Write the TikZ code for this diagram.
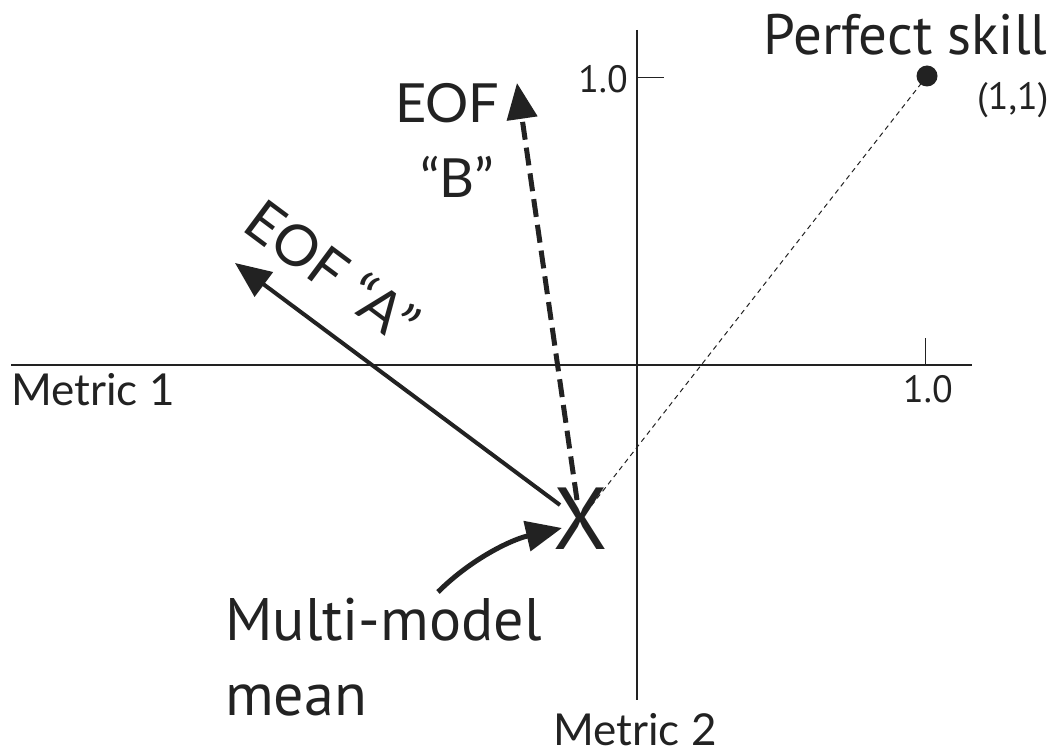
\documentclass[tikz,border=0pt]{standalone}
\usepackage{fontspec}
\setmainfont{PT Sans}
\newfontfamily\gill{Lato}
\usetikzlibrary{arrows.meta}
\definecolor{ink}{HTML}{222222}
\begin{document}
\begin{tikzpicture}[x=1pt,y=-1pt,
  lbl/.style={inner sep=0pt, text=ink},
  axis/.style={draw=ink, line width=1.5pt},
  bighead/.style={-{Triangle[length=36pt,width=30pt]}},
]
\useasboundingbox (0,0) rectangle (1061,754);
% axes
\coordinate (hl) at (11,365);
\coordinate (hr) at (972,365);
\coordinate (vt) at (637,30);
\coordinate (vb) at (637,700);
\draw[axis] (hl) -- (hr);
\draw[axis] (vt) -- (vb);
\coordinate (ty1) at (637,78); \coordinate (ty2) at (664,78);
\coordinate (tx1) at (925,338); \coordinate (tx2) at (925,365);
\draw[axis, line width=1pt] (ty1) -- (ty2);
\draw[axis, line width=1pt] (tx1) -- (tx2);
% labels
\node[lbl, anchor=base west, font=\gill\fontsize{44}{44}\selectfont] (m1) at (11,405) {Metric 1};
\node[lbl, anchor=base west, font=\gill\fontsize{44}{44}\selectfont] (m2) at (553,745) {Metric 2};
\node[lbl, anchor=base east, font=\fontsize{38}{38}\selectfont] (y10) at (628,93) {1.0};
\node[lbl, anchor=base west, font=\fontsize{38}{38}\selectfont] (x10) at (903,402) {1.0};
% perfect skill
\node[circle, fill=ink, inner sep=0pt, minimum size=21pt] (ps) at (927,76) {};
\node[lbl, anchor=base west, font=\fontsize{57}{57}\selectfont] (pst) at (763,55) {Perfect skill};
\node[lbl, anchor=base west, font=\fontsize{38}{38}\selectfont] (one) at (977,110) {(1,1)};
% multi-model mean
\node[lbl, font=\fontsize{88}{88}\selectfont] (mmm) at (581,519) {X};
\draw[ink, line width=1pt, dash pattern=on 5pt off 4pt] (ps.center) -- (588,510);
% EOF B
\coordinate (bs) at (577,500);
\coordinate (bt) at (517,83);
\draw[ink, line width=5pt, dash pattern=on 18pt off 8pt, bighead] (bs) -- (bt);
\node[lbl, anchor=base west, font=\gill\fontsize{54}{54}\selectfont] (eofb) at (395,123) {EOF};
\node[lbl, anchor=base west, font=\gill\fontsize{54}{54}\selectfont] (bq) at (420,198) {“B”};
% EOF A
\coordinate (as) at (560,505);
\coordinate (at) at (235,263);
\draw[ink, line width=4pt, bighead] (as) -- (at);
\node[lbl, rotate=-36.7, font=\gill\fontsize{57}{57}\selectfont] (eofa) at (333,271) {EOF “A”};
% curved pointer
\coordinate (cs) at (438,592);
\coordinate (ct) at (562,528);
\draw[ink, line width=5pt, bighead] (cs) .. controls (470,560) and (510,540) .. (ct);
\node[lbl, anchor=base west, font=\fontsize{60}{60}\selectfont] (mm1) at (225,640) {Multi-model};
\node[lbl, anchor=base west, font=\fontsize{60}{60}\selectfont] (mm2) at (225,715) {mean};
\end{tikzpicture}
\end{document}
